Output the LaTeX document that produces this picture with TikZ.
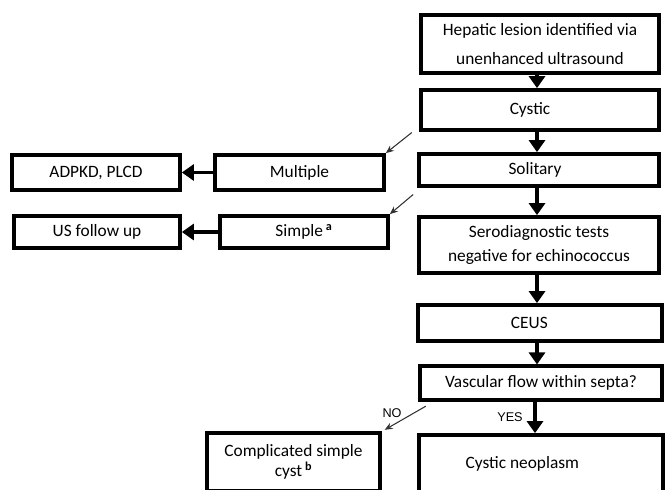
\documentclass[tikz,border=0pt]{standalone}
\usepackage{fontspec}
\setmainfont{Carlito}
\newfontfamily\arialfont{Liberation Sans}
\usetikzlibrary{arrows.meta}

\begin{document}
\begin{tikzpicture}[x=0.75pt,y=-0.75pt,
  box/.style={draw,line width=2.8pt,inner sep=1pt,align=center,
              font=\fontsize{13}{17}\selectfont},
  fat arrow/.style={line width=2.4pt,-{Triangle[length=9pt,width=12pt]}},
  thin arrow/.style={draw=black!80,line width=0.8pt,-{Stealth[length=6pt,width=5pt]}},
  yesno/.style={font=\arialfont\fontsize{9.5}{11}\selectfont,inner sep=1pt}]
\useasboundingbox (0,0) rectangle (667,489);
% main column
\node[box,minimum width=178.5pt,minimum height=43.5pt,font=\fontsize{13}{22}\selectfont] (hep) at (540,44) {Hepatic lesion identified via\\unenhanced ultrasound};
\node[box,minimum width=178.5pt,minimum height=30pt] (cyst) at (540,110) {Cystic\hspace*{15pt}};
\node[box,minimum width=180pt,minimum height=24pt] (solit) at (539,170) {Solitary\hspace*{6pt}};
\node[box,minimum width=180pt,minimum height=42pt,font=\fontsize{13}{18}\selectfont] (sero) at (539,245) {Serodiagnostic tests\\negative for echinococcus};
\node[box,minimum width=183pt,minimum height=27pt] (ceus) at (540,323) {CEUS\hspace*{16pt}};
\node[box,minimum width=182pt,minimum height=25pt] (vasc) at (541,383) {Vascular flow within septa?};
\node[box,minimum width=183pt,minimum height=43.5pt] (neo) at (541,464) {Cystic neoplasm\hspace*{28pt}};
\node[box,minimum width=130pt,minimum height=43.5pt,font=\fontsize{13}{15}\selectfont] (compl) at (293.5,462) {Complicated simple\\cyst\,\textsuperscript{\textbf{b}}};
% left branches
\node[box,minimum width=126.75pt,minimum height=26.25pt] (multi) at (299.5,172.5) {Multiple};
\node[box,minimum width=126pt,minimum height=26.25pt] (adpkd) at (96,172.5) {ADPKD, PLCD};
\node[box,minimum width=126pt,minimum height=24pt] (simple) at (304,232) {Simple\,\textsuperscript{\textbf{a}}};
\node[box,minimum width=124.5pt,minimum height=24pt] (usfu) at (97,232) {US follow up};
% arrows
\draw[fat arrow] (hep.south -| 537,0) -- (cyst.north -| 537,0);
\draw[fat arrow] (cyst.south -| 537,0) -- (solit.north -| 537,0);
\draw[fat arrow] (solit.south -| 537,0) -- (sero.north -| 537,0);
\draw[fat arrow] (sero.south -| 537,0) -- (ceus.north -| 537,0);
\draw[fat arrow] (ceus.south -| 537,0) -- (vasc.north -| 537,0);
\draw[fat arrow] (vasc.south -| 535,0) -- (neo.north -| 535,0);
\draw[fat arrow] (multi) -- (adpkd);
\draw[fat arrow] (simple) -- (usfu);
\draw[thin arrow] ([xshift=-5.5pt,yshift=-0.5pt]cyst.south west) -- (multi.north east);
\draw[thin arrow] ([xshift=-3pt,yshift=-5pt]solit.south west) -- (simple.north east);
\draw[thin arrow] ([xshift=6pt,yshift=-3.5pt]vasc.south west) -- ([xshift=2pt,yshift=1pt]compl.north east);
\node[yesno] (no) at (392,413) {NO};
\node[yesno] (yes) at (510,417) {YES};
\end{tikzpicture}
\end{document}
